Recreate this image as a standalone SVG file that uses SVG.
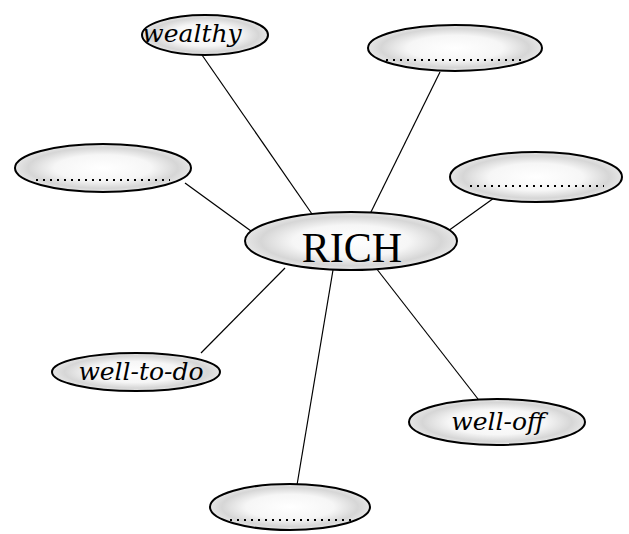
<svg xmlns="http://www.w3.org/2000/svg" width="629" height="534" viewBox="0 0 629 534">
<defs>
<radialGradient id="g" cx="0.5" cy="0.5" r="0.5">
<stop offset="0" stop-color="#ffffff"/>
<stop offset="0.55" stop-color="#f6f6f6"/>
<stop offset="0.85" stop-color="#d6d6d6"/>
<stop offset="1" stop-color="#e6e6e6"/>
</radialGradient>
</defs>
<style>
.n{fill:url(#g);stroke:#000;stroke-width:2}
.d{stroke:#000;stroke-width:2;stroke-dasharray:2 5;fill:none}
.c line{stroke:#000;stroke-width:1.2}
.t{font-family:"DejaVu Serif","Liberation Serif",serif;font-style:italic;font-size:25px;fill:#000;text-anchor:middle}
.r{font-family:"Liberation Serif","DejaVu Serif",serif;font-size:42px;fill:#000;text-anchor:middle}
</style>
<g class="c" id="connectors">
<line x1="202" y1="55" x2="312" y2="214"/>
<line x1="440" y1="72" x2="370" y2="214"/>
<line x1="185" y1="183" x2="251" y2="231"/>
<line x1="494" y1="198" x2="448" y2="231"/>
<line x1="285" y1="268" x2="201" y2="353"/>
<line x1="333" y1="270" x2="297" y2="485"/>
<line x1="376" y1="268" x2="478" y2="399"/>
</g>
<g id="rich"><ellipse class="n" cx="351" cy="241" rx="106" ry="29"/><text class="r" x="352" y="262">RICH</text></g>
<g id="wealthy"><ellipse class="n" cx="205" cy="35" rx="63" ry="20"/><text class="t" x="192" y="42">wealthy</text></g>
<g id="blank-top-right"><ellipse class="n" cx="455" cy="48" rx="87" ry="23"/><line class="d" x1="386" y1="60" x2="524" y2="60"/></g>
<g id="blank-left"><ellipse class="n" cx="103" cy="168" rx="88" ry="24"/><line class="d" x1="36" y1="180" x2="170" y2="180"/></g>
<g id="blank-right"><ellipse class="n" cx="536" cy="177" rx="86" ry="25"/><line class="d" x1="470" y1="186" x2="604" y2="186"/></g>
<g id="well-to-do"><ellipse class="n" cx="136" cy="372" rx="84" ry="19"/><text class="t" x="141" y="380">well-to-do</text></g>
<g id="well-off"><ellipse class="n" cx="497" cy="422" rx="88" ry="23"/><text class="t" x="498" y="430">well-off</text></g>
<g id="blank-bottom"><ellipse class="n" cx="290" cy="507" rx="80" ry="23"/><line class="d" x1="230" y1="520" x2="352" y2="520"/></g>
</svg>
